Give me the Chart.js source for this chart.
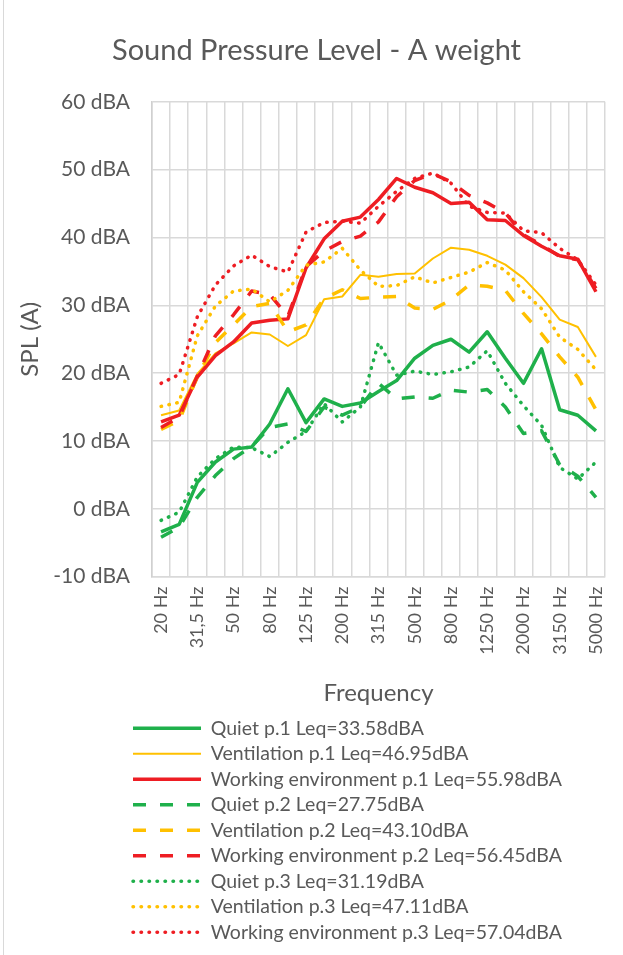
<!DOCTYPE html>
<html>
<head>
<meta charset="utf-8">
<script src="https://cdn.jsdelivr.net/npm/chart.js@4.4.0/dist/chart.umd.min.js"></script>
<style>
  html, body { margin: 0; padding: 0; background: #fff; }
  #wrap { position: relative; width: 623px; height: 955px; }
  #wrap:before { content: ''; position: absolute; left: 3px; top: 0; bottom: 0; border-left: 1px solid #d9d9d9; }
</style>
</head>
<body>
<div id="wrap"><canvas id="splChart" width="623" height="955"></canvas></div>
<script>
// 1/3 octave bands
const bands = ['20 Hz', '25 Hz', '31,5 Hz', '40 Hz', '50 Hz', '63 Hz', '80 Hz', '100 Hz', '125 Hz',
  '160 Hz', '200 Hz', '250 Hz', '315 Hz', '400 Hz', '500 Hz', '630 Hz', '800 Hz', '1000 Hz',
  '1250 Hz', '1600 Hz', '2000 Hz', '2500 Hz', '3150 Hz', '4000 Hz', '5000 Hz'];

const quietP1 = [-3.4, -2.3, 3.9, 6.9, 8.8, 9.1, 12.5, 17.7, 12.7, 16.2, 15.1, 15.6, 17.3, 18.9, 22.2, 24.1, 25.0, 23.1, 26.1, 22.2, 18.5, 23.6, 14.6, 13.8, 11.5];
const ventP1 = [13.8, 14.5, 19.9, 22.9, 24.4, 26.0, 25.7, 24.0, 25.6, 30.9, 31.3, 34.5, 34.2, 34.6, 34.7, 36.9, 38.5, 38.2, 37.3, 36.0, 34.0, 31.2, 27.9, 26.8, 22.4];
const workP1 = [12.8, 13.8, 19.4, 22.6, 24.6, 27.4, 27.8, 28.0, 35.5, 39.8, 42.4, 43.0, 45.6, 48.7, 47.4, 46.6, 45.0, 45.2, 42.6, 42.5, 40.3, 38.7, 37.3, 36.8, 32.0];
const quietP2 = [-4.2, -2.7, 1.7, 4.9, 7.4, 9.2, 12.0, 12.5, 11.4, 15.0, 13.8, 15.0, 18.5, 16.2, 16.5, 16.3, 17.5, 17.2, 17.6, 15.0, 11.1, 11.5, 6.5, 4.8, 1.7];
const ventP2 = [11.7, 13.0, 19.5, 24.5, 27.1, 29.8, 30.3, 26.1, 27.1, 31.0, 32.3, 31.0, 31.2, 31.3, 29.6, 29.4, 30.8, 33.0, 32.8, 32.2, 28.8, 25.8, 22.4, 19.4, 14.6];
const workP2 = [12.0, 13.5, 19.6, 25.5, 28.6, 32.1, 31.6, 28.4, 35.7, 38.0, 39.4, 40.2, 42.3, 46.0, 48.4, 49.4, 48.2, 46.2, 45.1, 43.6, 40.4, 38.9, 37.2, 36.7, 32.5];
const quietP3 = [-1.7, -0.5, 4.7, 7.4, 9.1, 9.0, 7.7, 9.8, 11.4, 15.5, 12.8, 15.0, 24.5, 19.7, 20.3, 19.8, 20.2, 20.9, 23.3, 18.5, 15.2, 12.3, 6.1, 4.4, 6.9];
const ventP3 = [15.1, 15.7, 25.5, 29.9, 32.1, 32.4, 30.5, 32.2, 35.9, 36.4, 38.4, 35.2, 32.8, 32.9, 34.2, 33.3, 34.1, 34.9, 36.3, 35.2, 32.0, 29.5, 25.3, 23.5, 20.5];
const workP3 = [18.5, 19.8, 28.3, 33.0, 35.8, 37.4, 35.7, 34.9, 40.8, 42.2, 42.4, 42.1, 44.6, 46.8, 48.7, 49.5, 48.0, 44.6, 43.7, 43.6, 41.0, 40.7, 38.4, 36.7, 33.0];

const GREEN = '#1fb04b';
const YELLOW = '#ffc000';
const RED = '#ee1d23';
const TEXT = '#595959';
const FONT = 'Lato';

const SOLID = [];
const DASH = [13, 14];
const DOT = [0.5, 7.5];

function series(label, data, color, width, dash) {
  return {
    label: label,
    data: data,
    borderColor: color,
    backgroundColor: color,
    borderWidth: width,
    borderDash: dash,
    borderCapStyle: dash === DOT ? 'round' : 'butt',
    borderJoinStyle: 'round',
    pointRadius: 0,
    pointHoverRadius: 0,
    tension: 0,
    fill: false
  };
}

const datasets = [
  series('Quiet p.1 Leq=33.58dBA', quietP1, GREEN, 3.5, SOLID),
  series('Ventilation p.1 Leq=46.95dBA', ventP1, YELLOW, 2, SOLID),
  series('Working environment p.1 Leq=55.98dBA', workP1, RED, 3.5, SOLID),
  series('Quiet p.2 Leq=27.75dBA', quietP2, GREEN, 3.5, DASH),
  series('Ventilation p.2 Leq=43.10dBA', ventP2, YELLOW, 3.5, DASH),
  series('Working environment p.2 Leq=56.45dBA', workP2, RED, 3.5, DASH),
  series('Quiet p.3 Leq=31.19dBA', quietP3, GREEN, 3.5, DOT),
  series('Ventilation p.3 Leq=47.11dBA', ventP3, YELLOW, 3.5, DOT),
  series('Working environment p.3 Leq=57.04dBA', workP3, RED, 3.5, DOT)
];
// later series drawn on top, like the spreadsheet does
datasets.forEach((d, i) => { d.order = datasets.length - i; });

// nudge title and legend blocks to where the original has them
const blockShift = {
  id: 'blockShift',
  afterLayout(chart) {
    chart.legend.left = 127;
    chart.titleBlock.left += 14;
    chart.titleBlock.right += 14;
  }
};

new Chart('splChart', {
  type: 'line',
  data: { labels: bands, datasets: datasets },
  plugins: [blockShift],
  options: {
    responsive: false,
    animation: false,
    devicePixelRatio: 1,
    layout: { padding: { left: 0, right: 18, top: 0, bottom: 3 } },
    plugins: {
      title: {
        display: true,
        text: 'Sound Pressure Level - A weight',
        color: TEXT,
        font: { family: FONT, size: 29, weight: 'normal' },
        padding: { top: 33, bottom: 34 }
      },
      legend: {
        position: 'bottom',
        align: 'start',
        fullSize: false,
        labels: {
          color: TEXT,
          font: { family: FONT, size: 19.5 },
          usePointStyle: true,
          pointStyle: 'line',
          pointStyleWidth: 68,
          padding: 6,
          generateLabels(chart) {
            const items = Chart.defaults.plugins.legend.labels.generateLabels(chart);
            items.forEach(it => {
              const ds = chart.data.datasets[it.datasetIndex];
              it.pointStyle = 'line';
              it.strokeStyle = ds.borderColor;
              it.lineWidth = ds.borderWidth;
              it.lineDash = ds.borderDash;
              it.lineCap = ds.borderCapStyle;
            });
            return items;
          },
          sort: (a, b) => a.datasetIndex - b.datasetIndex
        }
      },
      tooltip: { enabled: false }
    },
    scales: {
      x: {
        offset: true,
        grid: { color: '#d9d9d9', lineWidth: 1.5, offset: true, drawTicks: false },
        border: { color: '#d9d9d9', width: 1.5 },
        afterFit: (scale) => { scale.paddingLeft = 0; scale.paddingRight = 0; },
        ticks: {
          color: TEXT,
          font: { family: FONT, size: 18 },
          autoSkip: false,
          maxRotation: 90,
          minRotation: 90,
          padding: 10,
          callback: (v, i) => (i % 2 === 0 ? bands[i] : '')
        },
        title: {
          display: true,
          text: 'Frequency',
          color: TEXT,
          font: { family: FONT, size: 24 },
          padding: { top: 14, bottom: 5 }
        }
      },
      y: {
        min: -10,
        max: 60,
        grid: { color: '#d9d9d9', lineWidth: 1.5, drawTicks: false },
        border: { color: '#d0d0d0', width: 1.5 },
        afterFit: (scale) => { scale.width = 152; },
        ticks: {
          stepSize: 10,
          color: TEXT,
          font: { family: FONT, size: 21 },
          padding: 22,
          callback: (v) => v + ' dBA'
        },
        title: {
          display: true,
          text: 'SPL (A)',
          color: TEXT,
          font: { family: FONT, size: 24 },
          padding: { top: 16, bottom: 0 }
        }
      }
    }
  }
});
</script>
</body>
</html>
